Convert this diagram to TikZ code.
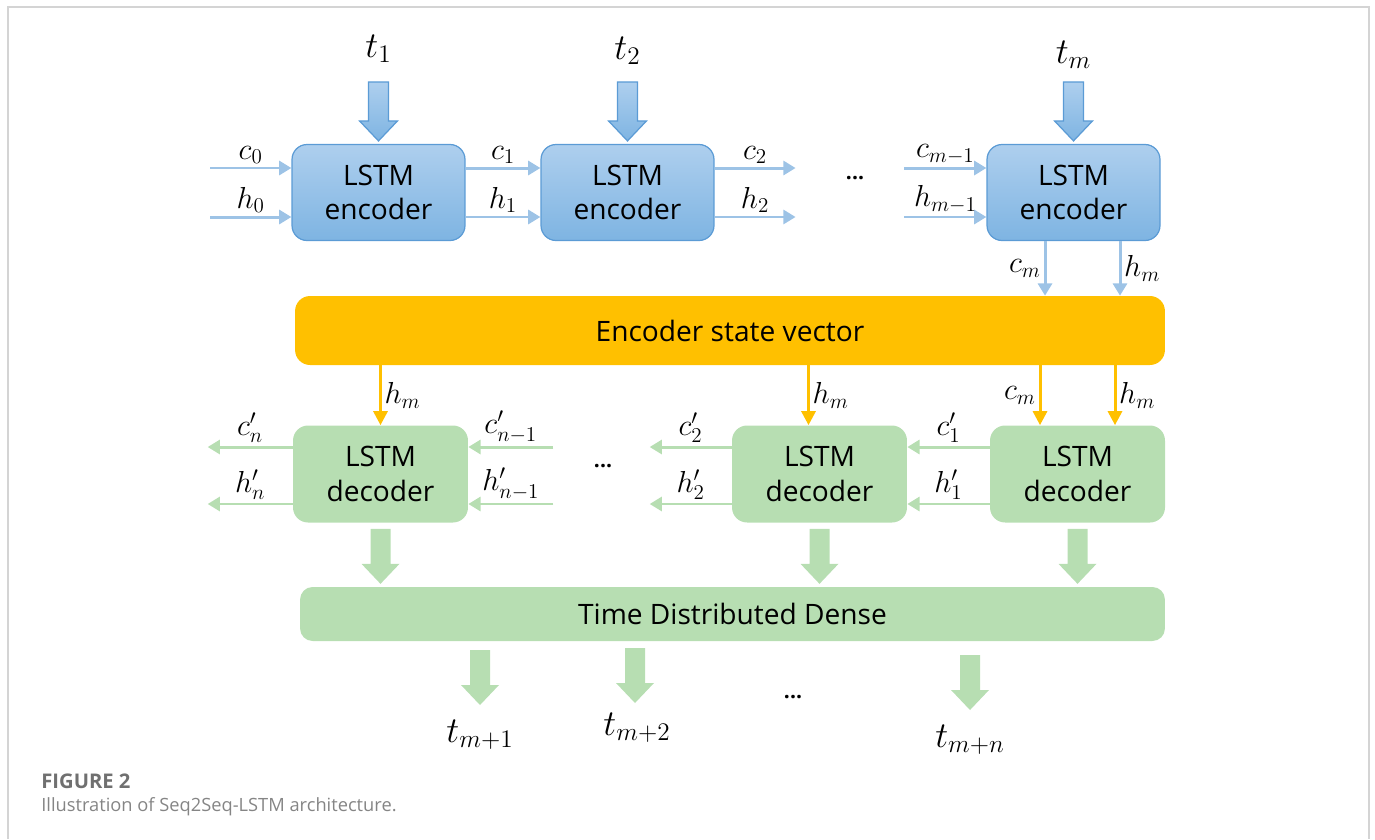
\documentclass[tikz,border=0pt]{standalone}
\usepackage{fontspec}
\setmainfont{Open Sans}
\usetikzlibrary{arrows.meta,positioning}

\definecolor{encblue}{RGB}{157,195,230}
\definecolor{encedge}{RGB}{91,155,213}
\definecolor{enctop}{RGB}{174,207,238}
\definecolor{encbot}{RGB}{126,180,226}
\definecolor{stateorange}{RGB}{255,192,0}
\definecolor{decgreen}{RGB}{183,222,178}
\definecolor{framegray}{RGB}{212,212,212}
\definecolor{capgray}{RGB}{112,112,112}

% fat block arrow pointing down: style, top point, length
\newcommand{\fatarrow}[3]{%
  \path[#1] (#2) ++(-10,0) -- ++(20,0) -- ++(0,#3-20) -- ++(9,0)
    -- ++(-19,20) -- ++(-19,-20) -- ++(9,0) -- cycle;}

\begin{document}
\begin{tikzpicture}[x=0.02cm,y=-0.02cm,
    boxfont/.style={font=\fontsize{16}{19.5}\selectfont},
    lstmenc/.style={boxfont, draw=encedge, line width=0.7pt, rounded corners=0.3cm,
      top color=enctop, bottom color=encbot, minimum width=3.46cm,
      minimum height=1.92cm, align=center},
    lstmdec/.style={boxfont, fill=decgreen, rounded corners=0.3cm,
      minimum width=3.5cm, minimum height=1.94cm, align=center},
    enclink/.style={draw=encblue, line width=1.7pt, -{Triangle[length=7pt,width=8pt]}},
    declink/.style={draw=decgreen, line width=1.7pt, -{Triangle[length=7pt,width=8pt]}},
    statelink/.style={draw=stateorange, line width=1.7pt, -{Triangle[length=8pt,width=8pt]}},
    encfat/.style={draw=encedge, line width=0.7pt, top color=enctop, bottom color=encbot},
    decfat/.style={fill=decgreen},
    lbl/.style={font=\fontsize{17.5}{20}\selectfont, inner sep=1.5pt},
    tlbl/.style={font=\fontsize{20}{23}\selectfont},
    dots/.style={font=\fontsize{12}{14}\selectfont\bfseries},
  ]
  \useasboundingbox (0,0) rectangle (1375,839);

  % page frame
  \draw[framegray, line width=1.1pt] (8,839) -- (8,7) -- (1369,7) -- (1369,839);

  % encoder chain
  \node[lstmenc] (enc1) at (378.5,192.5) {LSTM\\encoder};
  \node[lstmenc] (enc2) at (627.5,192.5) {LSTM\\encoder};
  \node[lstmenc] (enc3) at (1073.5,192.5) {LSTM\\encoder};
  \node[dots] (encdots) at (855,178) {...};

  % inputs
  \node[tlbl] (t1) at ([yshift=1.9cm]enc1.north) {$t_1$};
  \node[tlbl] (t2) at ([yshift=1.86cm]enc2.north) {$t_2$};
  \node[tlbl] (tm) at ([yshift=1.78cm]enc3.north) {$t_m$};
  \fatarrow{encfat}{[yshift=1.24cm]enc1.north}{59}
  \fatarrow{encfat}{[yshift=1.24cm]enc2.north}{59}
  \fatarrow{encfat}{[yshift=1.24cm]enc3.north}{59}

  % states between encoders
  \coordinate (c0) at (210,168);
  \coordinate (h0) at (210,217);
  \draw[enclink] (c0) -- (c0 -| enc1.west) node[midway, above, lbl] {$c_0$};
  \draw[enclink] (h0) -- (h0 -| enc1.west) node[midway, above, lbl] {$h_0$};
  \draw[enclink] ([yshift=0.49cm]enc1.east) -- ([yshift=0.49cm]enc2.west)
    node[midway, above, lbl] {$c_1$};
  \draw[enclink] ([yshift=-0.49cm]enc1.east) -- ([yshift=-0.49cm]enc2.west)
    node[midway, above, lbl] {$h_1$};
  \draw[enclink] ([yshift=0.49cm]enc2.east) -- ++(81,0) node[midway, above, lbl] {$c_2$};
  \draw[enclink] ([yshift=-0.49cm]enc2.east) -- ++(81,0) node[midway, above, lbl] {$h_2$};
  \coordinate (cm1) at ([xshift=-1.64cm,yshift=0.49cm]enc3.west);
  \coordinate (hm1) at ([xshift=-1.64cm,yshift=-0.49cm]enc3.west);
  \draw[enclink] (cm1) -- (cm1 -| enc3.west) node[midway, above, lbl] {$c_{m-1}$};
  \draw[enclink] (hm1) -- (hm1 -| enc3.west) node[midway, above, lbl] {$h_{m-1}$};

  % state vector
  \node[boxfont, fill=stateorange, rounded corners=0.3cm, minimum width=17.4cm,
    minimum height=1.38cm] (state) at (730,330.5) {Encoder state vector};
  \coordinate (cmout) at ([xshift=-0.57cm]enc3.south);
  \coordinate (hmout) at ([xshift=0.93cm]enc3.south);
  \draw[enclink] (cmout) -- (cmout |- state.north) node[midway, left, lbl] {$c_m$};
  \draw[enclink] (hmout) -- (hmout |- state.north) node[midway, right, lbl] {$h_m$};

  % decoder chain
  \node[lstmdec] (dec1) at (380.5,474) {LSTM\\decoder};
  \node[lstmdec] (dec2) at (819.5,474) {LSTM\\decoder};
  \node[lstmdec] (dec3) at (1077.5,474) {LSTM\\decoder};
  \node[dots] (decdots) at (603,466) {...};

  \coordinate (hmin1) at (dec1.north |- state.south);
  \coordinate (hmin2) at ([xshift=-0.22cm]dec2.north |- state.south);
  \coordinate (cmin3) at ([xshift=-0.75cm]dec3.north |- state.south);
  \coordinate (hmin3) at ([xshift=0.75cm]dec3.north |- state.south);
  \draw[statelink] (hmin1) -- (hmin1 |- dec1.north) node[midway, right, lbl] {$h_m$};
  \draw[statelink] (hmin2) -- (hmin2 |- dec2.north) node[midway, right, lbl] {$h_m$};
  \draw[statelink] (cmin3) -- (cmin3 |- dec3.north) node[midway, left, lbl] {$c_m$};
  \draw[statelink] (hmin3) -- (hmin3 |- dec3.north) node[midway, right, lbl] {$h_m$};

  \draw[declink] ([yshift=0.54cm]dec1.west) -- ++(-85,0) node[midway, above, lbl] {$c'_n$};
  \draw[declink] ([yshift=-0.6cm]dec1.west) -- ++(-85,0) node[midway, above, lbl] {$h'_n$};
  \coordinate (cn1) at ([xshift=1.7cm,yshift=0.54cm]dec1.east);
  \coordinate (hn1) at ([xshift=1.7cm,yshift=-0.6cm]dec1.east);
  \draw[declink] (cn1) -- (cn1 -| dec1.east) node[midway, above, lbl] {$c'_{n-1}$};
  \draw[declink] (hn1) -- (hn1 -| dec1.east) node[midway, above, lbl] {$h'_{n-1}$};
  \draw[declink] ([yshift=0.54cm]dec2.west) -- ++(-82,0) node[midway, above, lbl] {$c'_2$};
  \draw[declink] ([yshift=-0.6cm]dec2.west) -- ++(-82,0) node[midway, above, lbl] {$h'_2$};
  \draw[declink] ([yshift=0.54cm]dec3.west) -- ([yshift=0.54cm]dec2.east)
    node[midway, above, lbl] {$c'_1$};
  \draw[declink] ([yshift=-0.6cm]dec3.west) -- ([yshift=-0.6cm]dec2.east)
    node[midway, above, lbl] {$h'_1$};

  % dense layer and outputs
  \node[boxfont, fill=decgreen, rounded corners=0.25cm, minimum width=17.3cm,
    minimum height=1.08cm] (dense) at (732.5,614) {Time Distributed Dense};
  \fatarrow{decfat}{[yshift=-0.12cm]dec1.south}{55}
  \fatarrow{decfat}{[yshift=-0.12cm]dec2.south}{55}
  \fatarrow{decfat}{[yshift=-0.12cm]dec3.south}{55}

  \fatarrow{decfat}{480,650}{55}
  \fatarrow{decfat}{635,648}{55}
  \fatarrow{decfat}{970,655}{55}
  \node[tlbl] (tm1) at (480,735) {$t_{m+1}$};
  \node[tlbl] (tm2) at (637,728) {$t_{m+2}$};
  \node[dots] (outdots) at (793,697) {...};
  \node[tlbl] (tmn) at (970,740) {$t_{m+n}$};

  % caption
  \node[anchor=base west, inner sep=0pt, text=capgray, font=\fontsize{11.5}{13}\selectfont\bfseries]
    (figno) at (41,788) {FIGURE 2};
  \node[anchor=base west, inner sep=0pt, text=capgray!85, font=\fontsize{10.4}{12}\selectfont]
    (figtext) at (41,811) {Illustration of Seq2Seq-LSTM architecture.};
\end{tikzpicture}
\end{document}
